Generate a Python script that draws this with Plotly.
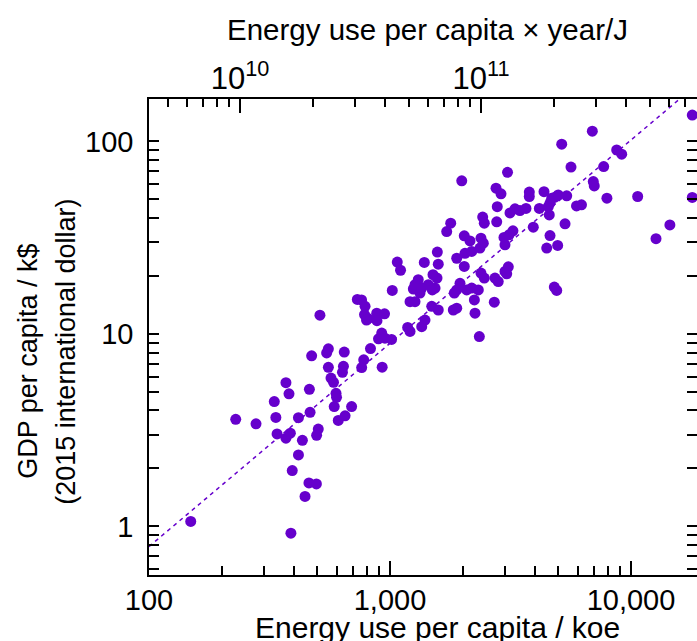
import numpy as np
import plotly.graph_objects as go

# Energy use per capita (koe) and GDP per capita (k$, 2015 international dollar)
energy_koe = [
    149, 229, 278, 331, 336, 340, 370, 381, 370, 386,
    393, 388, 417, 417, 433, 444, 461, 495, 463, 466,
    504, 496, 473, 512, 546, 555, 555, 569, 583, 597,
    600, 587, 610, 651, 693, 641, 635, 646, 732, 762,
    788, 784, 811, 881, 949, 799, 883, 924, 896, 953,
    1015, 830, 778, 763, 928, 1022, 1072, 1106, 1184, 1211,
    1211, 1270, 1250, 1332, 1310, 1270, 1442, 1354, 1538, 1498,
    1508, 1567, 1388, 1586, 1572, 1397, 1354, 1490, 1586, 1831,
    1892, 1952, 1892, 1849, 2081, 2183, 2325, 2239, 2253, 2709,
    2348, 1892, 2033, 2047, 2183, 2362, 2385, 2462, 2727, 2813,
    3000, 3097, 3050, 3000, 1985, 3074, 2754, 2888, 2787, 3147,
    3302, 3461, 3667, 2424, 2462, 2772, 1786, 1719, 2033, 2148,
    2385, 2439, 3237, 3118, 2972, 3932, 5325, 4613, 4470, 4963,
    4166, 4581, 4537, 4613, 4688, 4838, 4990, 5411, 4355, 3785,
    3785, 6232, 5943, 4806, 4918, 5158, 5637, 6911, 7703, 6975,
    7041, 7945, 8723, 9150, 10660, 12700, 14500, 17960, 17960,
]
gdp_k = [
    1.06, 3.60, 3.41, 4.45, 3.68, 3.02, 5.58, 4.88, 2.87, 3.05,
    1.95, 0.922, 2.35, 3.67, 2.80, 1.43, 1.68, 1.66, 5.15, 3.91,
    3.20, 2.97, 7.69, 12.5, 7.96, 8.36, 6.70, 5.89, 5.60, 4.91,
    4.68, 4.19, 3.55, 3.75, 4.19, 6.78, 6.31, 8.04, 15.1, 15.0,
    13.9, 12.6, 12.0, 12.8, 12.7, 11.8, 11.7, 10.1, 9.42, 9.50,
    9.36, 8.39, 7.33, 6.68, 6.71, 16.8, 23.6, 21.4, 10.8, 10.3,
    14.7, 14.7, 17.1, 16.3, 19.1, 18.0, 18.0, 17.3, 17.3, 16.9,
    20.3, 19.5, 23.5, 23.0, 26.6, 11.8, 10.9, 13.9, 13.3, 13.3,
    13.6, 18.3, 16.9, 16.3, 16.9, 17.3, 16.9, 15.0, 12.8, 14.6,
    9.68, 24.7, 22.4, 26.2, 26.8, 27.9, 20.7, 19.5, 19.5, 18.7,
    21.1, 22.3, 20.5, 29.0, 62.4, 69.0, 57.1, 53.4, 45.8, 42.5,
    44.6, 43.7, 44.8, 40.4, 37.6, 38.2, 37.6, 34.0, 32.3, 30.4,
    31.4, 29.6, 34.3, 32.7, 31.7, 35.8, 37.3, 32.4, 27.9, 28.8,
    44.8, 41.5, 45.8, 47.8, 50.7, 51.3, 52.7, 52.1, 54.8, 54.5,
    51.7, 46.8, 46.2, 17.5, 16.8, 96.7, 73.5, 113, 74.0, 61.8,
    58.7, 50.7, 90.3, 85.8, 51.7, 31.2, 36.8, 137, 51.1,
]

# Power-law fit: GDP = fit_a * (E/100)^fit_b
fit_a = 0.785
fit_b = 1.056

# Axis ticks
x_major = [100, 1000, 10000]
x_major_text = ["100", "1,000", "10,000"]
x_minor = [m * d for d in (100, 1000, 10000) for m in range(2, 10) if m * d <= 20000]
y_major = [1, 10, 100]
y_major_text = ["1", "10", "100"]
y_minor = [m * d for d in (0.1, 1, 10, 100) for m in range(2, 10) if 0.55 <= m * d <= 170]
j_major = [1e10, 1e11]
j_major_text = ["10<sup>10</sup>", "10<sup>11</sup>"]
j_minor = [m * d for d in (1e9, 1e10, 1e11) for m in range(2, 10) if 4.3e9 <= m * d <= 8e11]

KOE_TO_J = 4.1868e7
x_log_range = [2.0, 4.2739]
y_log_range = [-0.2527, 2.2200]
j_log_range = [v + np.log10(KOE_TO_J) for v in x_log_range]

color = "rgb(102,0,204)"
font_family = "Liberation Sans, Arial, sans-serif"

fit_x = np.logspace(x_log_range[0], x_log_range[1], 50)
fit_y = fit_a * (fit_x / 100.0) ** fit_b

fig = go.Figure()
fig.add_trace(go.Scatter(x=fit_x, y=fit_y, mode="lines",
                         line=dict(color=color, width=1.5, dash="4px,4px"),
                         hoverinfo="skip", showlegend=False))
fig.add_trace(go.Scatter(x=energy_koe, y=gdp_k, mode="markers",
                         marker=dict(color=color, size=11, line=dict(width=0)),
                         showlegend=False))
# invisible traces to activate the top (J) axis and the right tick axis
fig.add_trace(go.Scatter(x=[1e10], y=[1], xaxis="x2", mode="markers",
                         marker=dict(opacity=0), hoverinfo="skip", showlegend=False))
fig.add_trace(go.Scatter(x=[1000], y=[1], yaxis="y2", mode="markers",
                         marker=dict(opacity=0), hoverinfo="skip", showlegend=False))

tickfont = dict(family=font_family, size=29, color="black")
tick_common = dict(ticks="inside", tickwidth=1.5, tickcolor="black")

fig.update_layout(
    width=697, height=641,
    margin=dict(l=149, r=0, t=99, b=66),
    paper_bgcolor="white", plot_bgcolor="white",
    font=dict(family=font_family, color="black"),
    xaxis=dict(type="log", range=x_log_range, showgrid=False, zeroline=False,
               showline=True, linecolor="black", linewidth=1.5, mirror=False,
               tickmode="array", tickvals=x_major, ticktext=x_major_text,
               ticklen=14, tickfont=tickfont, ticklabelstandoff=-2, **tick_common,
               minor=dict(tickmode="array", tickvals=x_minor, ticklen=9,
                          showgrid=False, **tick_common)),
    xaxis2=dict(type="log", range=j_log_range, overlaying="x", side="top", anchor="y",
                showgrid=False, zeroline=False, showline=True, linecolor="black", linewidth=1.5,
                tickmode="array", tickvals=j_major, ticktext=j_major_text,
                ticklen=14, tickfont=dict(family=font_family, size=31, color="black"),
                ticklabelstandoff=-4, **tick_common,
                minor=dict(tickmode="array", tickvals=j_minor, ticklen=8,
                           showgrid=False, **tick_common)),
    yaxis=dict(type="log", range=y_log_range, showgrid=False, zeroline=False,
               showline=True, linecolor="black", linewidth=1.5, mirror=False,
               tickmode="array", tickvals=y_major, ticktext=y_major_text,
               ticklen=10, tickfont=tickfont, ticklabelstandoff=8, **tick_common,
               minor=dict(tickmode="array", tickvals=y_minor, ticklen=10,
                          showgrid=False, **tick_common)),
    yaxis2=dict(type="log", range=y_log_range, overlaying="y", side="right", anchor="x",
                showgrid=False, zeroline=False, showline=False, showticklabels=False,
                tickmode="array", tickvals=y_major, ticklen=10, **tick_common,
                minor=dict(tickmode="array", tickvals=y_minor, ticklen=10,
                           showgrid=False, **tick_common)),
    annotations=[
        dict(text="Energy use per capita / koe", xref="paper", yref="paper",
             x=(437 - 149) / 548, y=-(628 - 575.3) / 476, xanchor="center", yanchor="middle",
             showarrow=False, font=dict(family=font_family, size=30, color="black")),
        dict(text="Energy use per capita × year/J", xref="paper", yref="paper",
             x=(427 - 149) / 548, y=(575.3 - 30) / 476, xanchor="center",
             yanchor="middle", showarrow=False,
             font=dict(family=font_family, size=29.5, color="black")),
        dict(text="GDP per capita / k$", xref="paper", yref="paper",
             x=(28 - 149) / 548, y=(575.3 - 362) / 476, xanchor="center", yanchor="middle",
             textangle=-90, showarrow=False,
             font=dict(family=font_family, size=27, color="black")),
        dict(text="(2015 international dollar)", xref="paper", yref="paper",
             x=(66 - 149) / 548, y=(575.3 - 352) / 476, xanchor="center", yanchor="middle",
             textangle=-90, showarrow=False,
             font=dict(family=font_family, size=27, color="black")),
    ],
)

fig.write_html("out.html")
